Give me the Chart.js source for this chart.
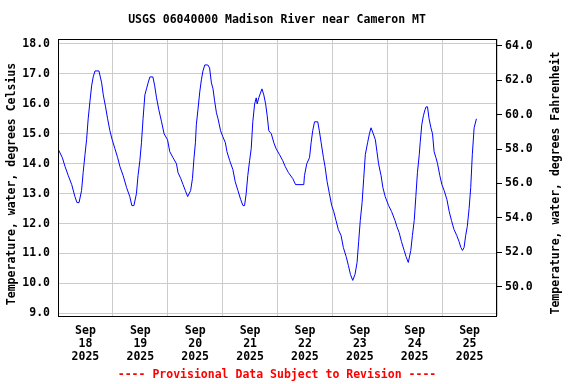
<!DOCTYPE html>
<html>
<head>
<meta charset="utf-8">
<script src="https://cdn.jsdelivr.net/npm/chart.js@4/dist/chart.umd.min.js"></script>
<style>
  body { margin: 0; background: #fff; }
  canvas { display: block; }
</style>
</head>
<body>
<canvas id="grafica" width="576" height="384"></canvas>
<script>
// hours since Sep 18 2025 00:00
var horas = [0, 1.9, 3.1, 4.5, 6.0, 7.4, 8.3, 9.2, 10.3, 11.0, 11.8, 12.5, 13.2, 14.0, 14.7, 15.4, 16.2, 17.9,
  19.1, 19.8, 20.8, 21.7, 22.7, 23.7, 24.9, 26.1, 27.1, 28.5, 30.0, 31.4, 32.3, 33.2, 34.3, 35.0, 35.8, 36.5,
  37.2, 38.0, 38.7, 39.4, 40.2, 41.5, 42.3, 43.1, 44.1, 45.3, 46.4, 47.9, 48.9, 50.3, 51.8, 52.5, 53.7, 54.7,
  55.7, 56.7, 58.0, 58.8, 59.5, 60.1, 60.5, 61.2, 62.0, 62.7, 63.4, 64.2, 65.5, 66.3, 67.1, 67.8, 68.5, 69.3,
  70.0, 71.1, 72.1, 73.2, 73.9, 75.1, 76.5, 77.5, 78.7, 79.9, 80.9, 81.6, 82.3, 83.0, 83.8, 84.5, 85.2, 86.0,
  86.7, 87.1, 87.8, 89.2, 90.0, 90.8, 91.5, 92.2, 93.3, 94.4, 95.4, 96.9, 98.3, 99.4, 100.8, 102.7, 103.9,
  107.5, 107.8, 108.8, 110.0, 110.7, 111.4, 112.2, 113.6, 114.3, 115.1, 116.1, 116.8, 117.7, 118.7, 119.7,
  120.6, 121.6, 122.6, 123.8, 124.8, 126.0, 127.0, 127.9, 128.9, 129.9, 130.8, 131.5, 132.2, 133.0, 133.7,
  134.4, 135.4, 136.2, 136.9, 137.9, 138.8, 139.5, 140.2, 141.3, 142.1, 143.1, 144.6, 145.9, 147.4, 148.2,
  149.2, 150.2, 151.4, 152.2, 153.2, 154.3, 155.0, 155.8, 156.5, 157.2, 158.0, 158.4, 159.1, 159.8, 160.5,
  161.0, 161.6, 162.3, 163.1, 163.8, 164.5, 165.3, 166.0, 167.0, 167.9, 168.9, 170.1, 171.1, 172.1, 173.2,
  174.4, 175.4, 176.2, 176.9, 177.6, 178.3, 179.0, 179.8, 180.5, 181.2, 182.0, 183.0];
var tempC = [14.5, 14.2, 13.9, 13.6, 13.3, 12.9, 12.7, 12.7, 13.1, 13.7, 14.3, 14.8, 15.5, 16.1, 16.6, 16.9, 17.1, 17.1,
  16.7, 16.3, 15.9, 15.5, 15.1, 14.8, 14.5, 14.2, 13.9, 13.6, 13.2, 12.9, 12.6, 12.6, 13.0, 13.6, 14.1, 14.7,
  15.5, 16.3, 16.5, 16.7, 16.9, 16.9, 16.6, 16.2, 15.8, 15.4, 15.0, 14.8, 14.4, 14.2, 14.0, 13.7, 13.5, 13.3,
  13.1, 12.9, 13.1, 13.5, 14.2, 14.7, 15.3, 15.8, 16.4, 16.8, 17.1, 17.3, 17.3, 17.2, 16.7, 16.5, 16.1, 15.7,
  15.5, 15.1, 14.9, 14.7, 14.4, 14.1, 13.8, 13.4, 13.1, 12.8, 12.6, 12.6, 13.0, 13.6, 14.1, 14.5, 15.4, 16.0,
  16.2, 16.0, 16.2, 16.5, 16.3, 16.0, 15.6, 15.1, 15.0, 14.7, 14.5, 14.3, 14.1, 13.9, 13.7, 13.5, 13.3,
  13.3, 13.6, 14.0, 14.2, 14.7, 15.1, 15.4, 15.4, 15.1, 14.7, 14.2, 13.9, 13.4, 13.0, 12.6,
  12.4, 12.1, 11.8, 11.6, 11.2, 10.9, 10.6, 10.3, 10.1, 10.3, 10.7, 11.4, 12.1, 12.7, 13.5,
  14.3, 14.7, 15.0, 15.2, 15.0, 14.8, 14.4, 14.0, 13.6, 13.2, 12.9, 12.6, 12.4, 12.1, 11.9,
  11.7, 11.4, 11.1, 10.9, 10.7, 11.1, 11.6, 12.1, 12.9, 13.7, 14.3, 14.7, 15.3, 15.6, 15.8,
  15.9, 15.9, 15.5, 15.2, 15.0, 14.4, 14.2, 14.0, 13.6, 13.3, 13.1, 12.8, 12.4, 12.1, 11.8,
  11.6, 11.4, 11.2, 11.1, 11.2, 11.6, 11.9, 12.5, 13.2, 14.3, 15.2, 15.5];
var dias = ['18', '19', '20', '21', '22', '23', '24', '25'];
var ticksC = [9, 10, 11, 12, 13, 14, 15, 16, 17, 18];
var ticksF = [50, 52, 54, 56, 58, 60, 62, 64];

var fuente = 'DejaVu Sans Mono';
var puntos = horas.map(function(h, i){ return {x: h, y: tempC[i]}; });
var marcasX = [];
for (var i = 0; i <= dias.length * 2; i++) marcasX.push({value: i * 12});

var textos = {
    id: 'textos',
    afterDraw: function(chart){
        var ctx = chart.ctx, a = chart.chartArea;
        ctx.save();
        ctx.strokeStyle = '#000';
        ctx.lineWidth = 1;
        ctx.strokeRect(a.left + 0.5, a.top + 0.5, a.right - a.left - 1, a.bottom - a.top);
        ctx.textAlign = 'center';
        ctx.textBaseline = 'middle';
        ctx.font = 'bold 11.5px "' + fuente + '"';
        ctx.fillStyle = '#000';
        ctx.fillText('USGS 06040000 Madison River near Cameron MT', 277, 20);
        ctx.fillStyle = '#ff0000';
        ctx.fillText('---- Provisional Data Subject to Revision ----', 277, 375);
        ctx.fillStyle = '#000';
        ctx.translate(12, 184);
        ctx.rotate(-Math.PI / 2);
        ctx.fillText('Temperature, water, degrees Celsius', 0, 0);
        ctx.restore();
        ctx.save();
        ctx.textAlign = 'center';
        ctx.textBaseline = 'middle';
        ctx.font = 'bold 11.5px "' + fuente + '"';
        ctx.fillStyle = '#000';
        ctx.translate(556, 183);
        ctx.rotate(-Math.PI / 2);
        ctx.fillText('Temperature, water, degrees Fahrenheit', 0, 0);
        ctx.restore();
    }
};

var grafica = document.getElementById('grafica');
var myChart = new Chart(grafica, {
    type: 'line',
    data: {
        datasets: [{
            data: puntos,
            borderColor: '#0000ff',
            borderWidth: 1,
            pointRadius: 0,
            tension: 0,
            fill: false
        }]
    },
    options: {
        responsive: false,
        animation: false,
        devicePixelRatio: 1,
        layout: { padding: { top: 39, left: 0, right: 0, bottom: 0 } },
        plugins: { legend: { display: false }, tooltip: { enabled: false } },
        scales: {
            x: {
                type: 'linear',
                min: 0,
                max: 192,
                afterBuildTicks: function(s){ s.ticks = marcasX; },
                afterFit: function(s){ s.height = 68; },
                grid: {
                    color: function(c){ return c.tick && c.tick.value % 24 === 0 ? '#cccccc' : 'rgba(0,0,0,0)'; },
                    drawTicks: false
                },
                border: { display: false },
                ticks: {
                    autoSkip: false,
                    maxRotation: 0,
                    padding: 9,
                    color: '#000',
                    font: { family: fuente, size: 11.5, weight: 'bold', lineHeight: 1.13 },
                    callback: function(v){
                        if (v % 24 !== 12) return '';
                        return ['Sep', dias[Math.floor(v / 24)], '2025'];
                    }
                }
            },
            y: {
                position: 'left',
                min: 8.91,
                max: 18.167,
                afterBuildTicks: function(s){ s.ticks = ticksC.map(function(v){ return {value: v}; }); },
                afterFit: function(s){ s.width = 58; },
                grid: { color: '#cccccc', drawTicks: false },
                border: { display: false },
                ticks: {
                    padding: 8,
                    color: '#000',
                    font: { family: fuente, size: 11.5, weight: 'bold' },
                    callback: function(v){ return v.toFixed(1); }
                }
            },
            y2: {
                position: 'right',
                display: true,
                min: 48.30,
                max: 64.39,
                afterBuildTicks: function(s){ s.ticks = ticksF.map(function(v){ return {value: v}; }); },
                afterFit: function(s){ s.width = 79; },
                grid: { drawOnChartArea: false, color: '#000', tickLength: 5 },
                border: { display: false },
                ticks: {
                    padding: 3,
                    color: '#000',
                    font: { family: fuente, size: 11.5, weight: 'bold' },
                    callback: function(v){ return v.toFixed(1); }
                }
            }
        }
    },
    plugins: [textos]
});
</script>
</body>
</html>
